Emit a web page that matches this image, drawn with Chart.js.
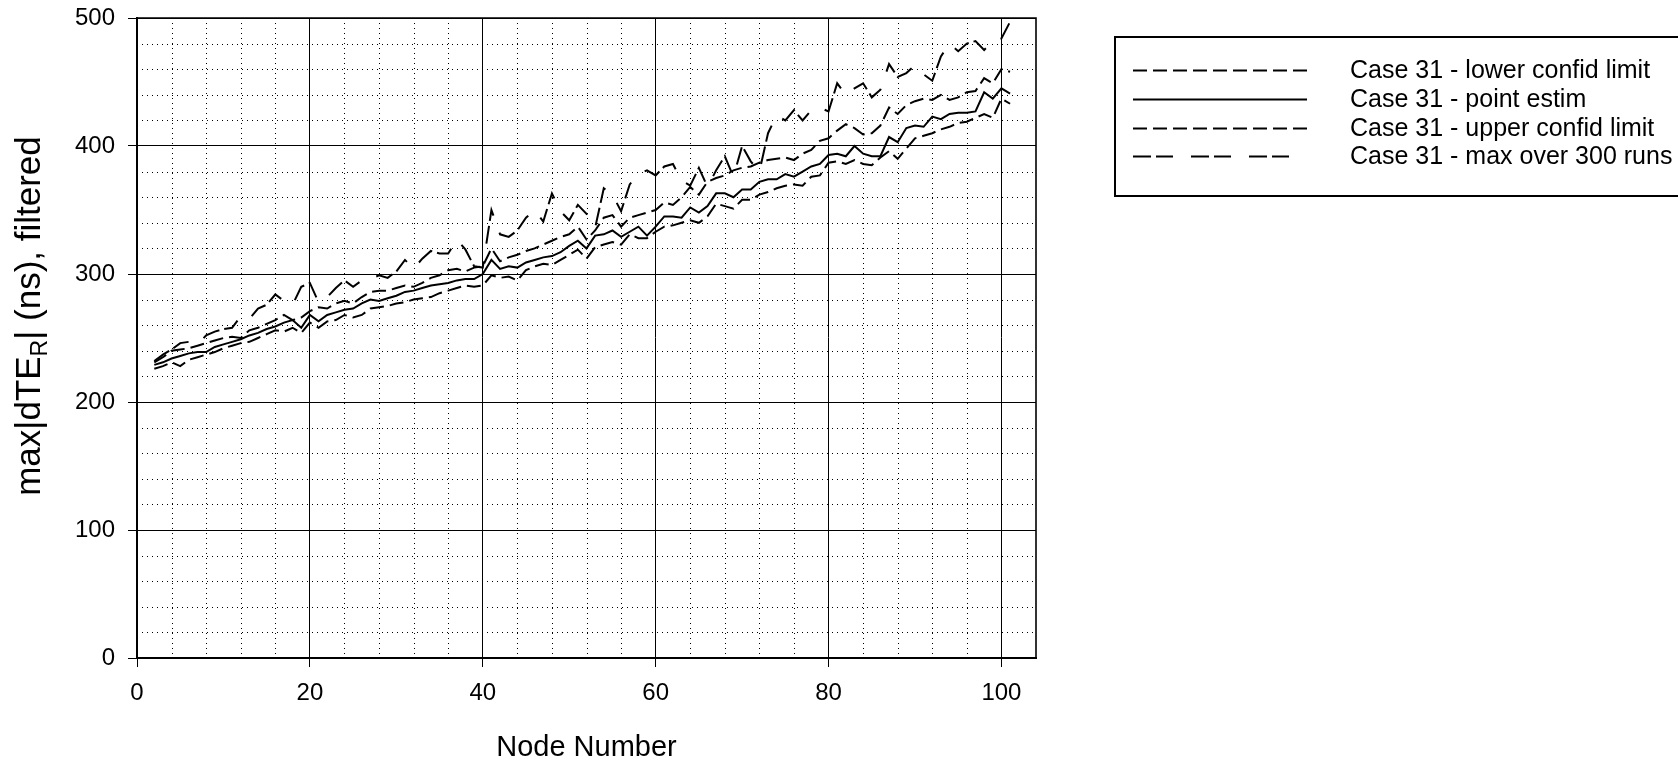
<!DOCTYPE html>
<html><head><meta charset="utf-8">
<script src="https://cdn.jsdelivr.net/npm/chart.js@4.4.1/dist/chart.umd.min.js"></script>
<style>html,body{margin:0;padding:0;background:#fff;overflow:hidden}#wrap{width:1678px;height:760px;position:relative}</style>
</head><body><div id="wrap"><canvas id="c" width="1678" height="760"></canvas></div>
<script>
const nodes = [2,3,4,5,6,7,8,9,10,11,12,13,14,15,16,17,18,19,20,21,22,23,24,25,26,27,28,29,30,31,32,33,34,35,36,37,38,39,40,41,42,43,44,45,46,47,48,49,50,51,52,53,54,55,56,57,58,59,60,61,62,63,64,65,66,67,68,69,70,71,72,73,74,75,76,77,78,79,80,81,82,83,84,85,86,87,88,89,90,91,92,93,94,95,96,97,98,99,100,101];
const lowerConf = [226,228,231,228,233,235,237,239,242,244, 246,247,250,253,256,255,258,254,262,258, 263,264,268,266,268,273,274,275,277,278, 280,281,282,285,287,289,291,290,291,299, 297,298,295,303,306,308,307,311,315,319, 312,321,323,325,323,331,328,328,333,337, 338,340,342,340,345,355,353,351,358,358, 362,364,367,369,370,369,376,377,387,388, 386,389,386,385,391,396,390,398,406,408, 410,413,415,418,419,422,425,422,437,433];
const pointEstim = [229,231,234,236,238,239,239,243,245,247, 249,252,254,257,259,262,264,258,268,263, 268,270,272,273,277,280,279,281,283,286, 287,289,291,292,293,295,296,296,300,311, 304,306,305,309,311,313,314,317,322,326, 320,330,331,334,329,333,337,330,337,345, 345,344,352,348,353,363,363,360,366,366, 372,374,374,378,376,380,384,386,393,394, 392,400,394,392,392,407,403,414,416,415, 423,421,425,426,426,427,442,437,445,441];
const upperConf = [231,235,240,241,242,244,246,248,250,251, 250,256,258,261,264,268,264,266,271,274, 273,277,279,277,282,286,287,287,289,291, 290,293,297,299,303,304,302,305,306,320, 310,313,315,318,320,323,326,329,331,337, 327,334,344,346,337,344,346,348,350,356, 354,360,368,362,372,375,377,381,383,384, 387,389,390,391,389,394,397,404,406,412, 417,414,409,410,416,430,425,432,435,437, 436,440,436,438,442,443,453,449,460,458];
const maxRuns = [232,237,241,246,247,245,252,255,257,258, 267,265,273,276,284,279,276,290,293,278, 282,289,295,290,295,296,299,297,302,311, 304,312,318,316,316,327,319,306,305,350, 331,329,334,344,350,341,363,349,342,354, 347,336,367,362,349,370,378,381,377,384, 386,373,369,383,368,381,392,376,400,388, 380,410,424,420,428,420,428,430,427,449, 440,445,449,438,444,464,454,457,463,456, 451,470,480,474,480,482,475,482,484,497];
const seriesLabels = ['Case 31 - lower confid limit','Case 31 - point estim','Case 31 - upper confid limit','Case 31 - max over 300 runs'];
const xTicks = [0,20,40,60,80,100];
const yTicks = [0,100,200,300,400,500];
const xTitle = 'Node Number';
const yTitleParts = [['max|dTE', false], ['R', true], ['| (ns), filtered', false]];

const FONT = "'Liberation Sans', Arial, Helvetica, sans-serif";
Chart.defaults.font.family = FONT;
Chart.defaults.color = '#000';

const xMinor = [], yMinor = [];
for (let v = 4; v <= 100; v += 4) if (v % 20) xMinor.push(v);
for (let v = 20; v < 500; v += 20) if (v % 100) yMinor.push(v);

const toPts = arr => nodes.map((n, i) => ({x: n, y: arr[i]}));
const dashes = [[14, 6], [], [14, 6], [18, 5, 17, 18]];
const seriesValues = [lowerConf, pointEstim, upperConf, maxRuns];

const minorGrid = {
  id: 'minorGrid',
  beforeDatasetsDraw(chart) {
    const {ctx, chartArea: a, scales: {x, y}} = chart;
    ctx.save();
    ctx.strokeStyle = '#000';
    ctx.lineWidth = 1;
    ctx.setLineDash([1, 4]);
    xMinor.forEach(v => { const px = Math.round(x.getPixelForValue(v)) + 0.5; ctx.beginPath(); ctx.moveTo(px, a.top); ctx.lineTo(px, a.bottom); ctx.stroke(); });
    yMinor.forEach(v => { const py = Math.round(y.getPixelForValue(v)) + 0.5; ctx.beginPath(); ctx.moveTo(a.left, py); ctx.lineTo(a.right, py); ctx.stroke(); });
    ctx.restore();
  },
  afterDatasetsDraw(chart) {
    const {ctx, chartArea: a} = chart;
    ctx.save();
    ctx.strokeStyle = '#000';
    ctx.lineWidth = 1.6;
    ctx.beginPath();
    ctx.moveTo(a.left, a.top); ctx.lineTo(a.right, a.top); ctx.lineTo(a.right, a.bottom);
    ctx.stroke();
    ctx.restore();
  }
};

const yTitlePlugin = {
  id: 'yTitle',
  afterDraw(chart) {
    const {ctx} = chart;
    const size = 35, subSize = 23;
    const fMain = size + 'px ' + FONT, fSub = subSize + 'px ' + FONT;
    ctx.save();
    ctx.fillStyle = '#000';
    ctx.textBaseline = 'middle';
    ctx.textAlign = 'left';
    let total = 0;
    const widths = yTitleParts.map(([t, sub]) => { ctx.font = sub ? fSub : fMain; const w = ctx.measureText(t).width; total += w; return w; });
    ctx.translate(30, 316);
    ctx.rotate(-Math.PI / 2);
    let px = -total / 2;
    yTitleParts.forEach(([t, sub], i) => { ctx.font = sub ? fSub : fMain; ctx.fillText(t, px, sub ? size * 0.3 : 0); px += widths[i]; });
    ctx.restore();
  }
};

const legendPlugin = {
  id: 'boxLegend',
  afterDraw(chart) {
    const {ctx} = chart;
    ctx.save();
    ctx.strokeStyle = '#000';
    ctx.lineWidth = 2;
    ctx.strokeRect(1115, 37, 640, 159);
    const rows = [70, 99, 128, 156];
    ctx.font = '25px ' + FONT;
    ctx.fillStyle = '#000';
    ctx.textBaseline = 'middle';
    ctx.textAlign = 'left';
    chart.data.datasets.forEach((ds, i) => {
      ctx.lineWidth = 1.8;
      ctx.setLineDash(ds.borderDash || []);
      ctx.beginPath(); ctx.moveTo(1133, rows[i] + 0.5); ctx.lineTo(1307, rows[i] + 0.5); ctx.stroke();
      ctx.setLineDash([]);
      ctx.fillText(ds.label, 1350, rows[i] + 1);
    });
    ctx.restore();
  }
};

new Chart(document.getElementById('c'), {
  type: 'line',
  data: {
    datasets: seriesValues.map((vals, i) => ({
      label: seriesLabels[i],
      data: toPts(vals),
      borderColor: '#000',
      backgroundColor: '#000',
      borderWidth: 2,
      borderDash: dashes[i],
      pointRadius: 0,
      tension: 0,
      fill: false
    }))
  },
  options: {
    responsive: false,
    animation: false,
    devicePixelRatio: 1,
    layout: {padding: {top: 18, right: 642, bottom: 0, left: 0}},
    plugins: {legend: {display: false}, tooltip: {enabled: false}},
    scales: {
      x: {
        type: 'linear', min: 0, max: 104,
        afterFit(s) { s.height = 102; s.paddingLeft = 0; s.paddingRight = 0; },
        afterBuildTicks(s) { s.ticks = xTicks.map(v => ({value: v})); },
        grid: {color: '#000', lineWidth: 1, tickLength: 9, tickColor: '#000'},
        border: {display: true, color: '#000', width: 2},
        ticks: {font: {size: 24}, padding: 12, maxRotation: 0, color: '#000'},
        title: {display: true, text: xTitle, font: {size: 29, lineHeight: 0.8}, padding: {top: 0, bottom: 0}, color: '#000'}
      },
      y: {
        min: 0, max: 500,
        afterFit(s) { s.width = 137; s.paddingTop = 0; s.paddingBottom = 0; },
        afterBuildTicks(s) { s.ticks = yTicks.map(v => ({value: v})); },
        grid: {color: '#000', lineWidth: 1, tickLength: 9, tickColor: '#000'},
        border: {display: true, color: '#000', width: 2},
        ticks: {font: {size: 24}, padding: 13, color: '#000'}
      }
    }
  },
  plugins: [minorGrid, yTitlePlugin, legendPlugin]
});
</script>
</body></html>
